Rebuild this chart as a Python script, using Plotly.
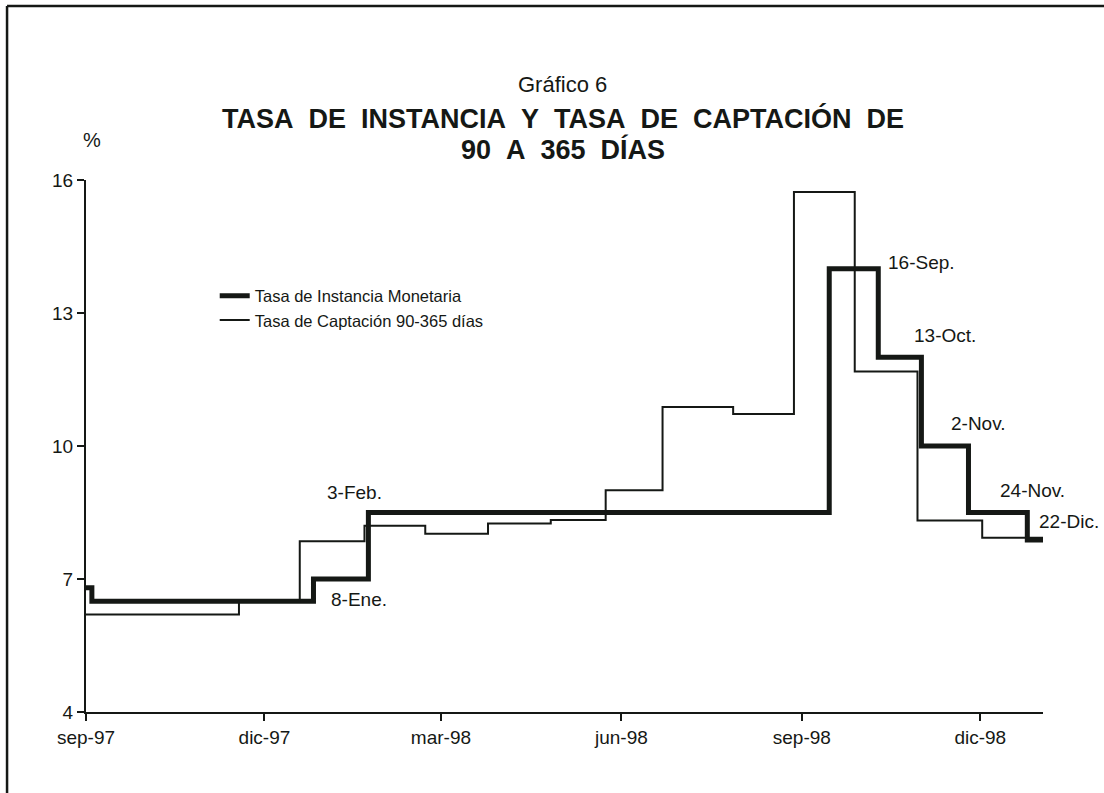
import plotly.graph_objects as go

# Tasa de Instancia Monetaria (step series: date of change, new value)
inst_dates = ["1997-09-01", "1997-09-04", "1997-12-26", "1998-01-23", "1998-09-15",
              "1998-10-10", "1998-11-01", "1998-11-25", "1998-12-25", "1999-01-02"]
inst_vals = [6.8, 6.5, 7.0, 8.5, 14.0, 12.0, 10.0, 8.5, 7.88, 7.88]

# Tasa de Captación 90-365 días
capt_dates = ["1997-09-01", "1997-11-18", "1997-12-19", "1998-01-21", "1998-02-21",
              "1998-03-25", "1998-04-26", "1998-05-24", "1998-06-22", "1998-07-28",
              "1998-08-28", "1998-09-28", "1998-10-30", "1998-12-02", "1999-01-02"]
capt_vals = [6.2, 6.5, 7.85, 8.2, 8.02, 8.25, 8.33, 9.0, 10.88, 10.72,
             15.73, 11.68, 8.32, 7.93, 7.93]

# Data labels (text, date, value)
label_text = ["8-Ene.", "3-Feb.", "16-Sep.", "13-Oct.", "2-Nov.", "24-Nov.", "22-Dic."]
label_dates = ["1998-01-03", "1998-01-01", "1998-10-14", "1998-10-27", "1998-11-15",
               "1998-12-10", "1998-12-30"]
label_vals = [6.53, 8.94, 14.13, 12.5, 10.5, 9.0, 8.29]

tick_dates = ["1997-09-01", "1997-12-01", "1998-03-01", "1998-06-01", "1998-09-01", "1998-12-01"]
tick_text = ["sep-97", "dic-97", "mar-98", "jun-98", "sep-98", "dic-98"]
y_ticks = [4, 7, 10, 13, 16]

FONT = "Liberation Sans, Arial, sans-serif"
INK = "#151815"

fig = go.Figure()
fig.add_trace(go.Scatter(x=inst_dates, y=inst_vals, mode="lines", line_shape="hv",
                         name="Tasa de Instancia Monetaria",
                         line=dict(color=INK, width=5)))
fig.add_trace(go.Scatter(x=capt_dates, y=capt_vals, mode="lines", line_shape="hv",
                         name="Tasa de Captación 90-365 días",
                         line=dict(color=INK, width=2)))

for t, d, v in zip(label_text, label_dates, label_vals):
    fig.add_annotation(x=d, y=v, xref="x", yref="y", text=t, showarrow=False,
                       xanchor="left", yanchor="middle",
                       font=dict(family=FONT, size=19, color=INK))

NB = "\u00a0"
title_lines = [
    ("Gráfico 6", 1.1786, 22, False),
    (f"TASA{NB}{NB}DE{NB}{NB}INSTANCIA{NB}{NB}Y{NB}{NB}TASA{NB}{NB}DE{NB}{NB}CAPTACIÓN{NB}{NB}DE", 1.1165, 27, True),
    (f"90{NB}{NB}A{NB}{NB}365{NB}{NB}DÍAS", 1.0564, 27, True),
]
for txt, yy, sz, bold in title_lines:
    fig.add_annotation(x=0.4984, y=yy, xref="paper", yref="paper",
                       text=f"<b>{txt}</b>" if bold else txt, showarrow=False,
                       xanchor="center", yanchor="middle",
                       font=dict(family=FONT, size=sz, color=INK))

fig.add_annotation(x=0.006, y=1.075, xref="paper", yref="paper", text="%",
                   showarrow=False, xanchor="center", yanchor="middle",
                   font=dict(family=FONT, size=20, color=INK))

# outer frame (top and left edges visible)
fig.add_shape(type="line", xref="paper", yref="paper", x0=-0.0825, x1=1.07,
              y0=1.327, y1=1.327, line=dict(color=INK, width=2.5))
fig.add_shape(type="line", xref="paper", yref="paper", x0=-0.0825, x1=-0.0825,
              y0=1.327, y1=-0.16, line=dict(color=INK, width=2.5))

fig.update_layout(
    width=1104, height=793,
    margin=dict(l=86, r=61, t=180, b=81),
    paper_bgcolor="white", plot_bgcolor="white",
    font=dict(family=FONT, size=19, color=INK),
    showlegend=True,
    legend=dict(x=0.1345, y=0.815, xanchor="left", yanchor="top",
                bgcolor="rgba(0,0,0,0)", font=dict(family=FONT, size=16.5, color=INK),
                tracegroupgap=0, itemwidth=30),
    xaxis=dict(type="date", range=["1997-09-01", "1999-01-02"],
               tickvals=tick_dates, ticktext=tick_text,
               showgrid=False, zeroline=False, showline=True, linecolor=INK, linewidth=2,
               ticks="outside", ticklen=7, tickwidth=1.5, tickcolor=INK,
               tickfont=dict(family=FONT, size=19, color=INK)),
    yaxis=dict(range=[4, 16], tickvals=y_ticks,
               showgrid=False, zeroline=False, showline=True, linecolor=INK, linewidth=2,
               ticks="outside", ticklen=7, tickwidth=1.5, tickcolor=INK,
               tickfont=dict(family=FONT, size=19, color=INK)),
)

fig.write_html("out.html", config={"displayModeBar": False},
               post_script="document.body.style.margin='0';")
